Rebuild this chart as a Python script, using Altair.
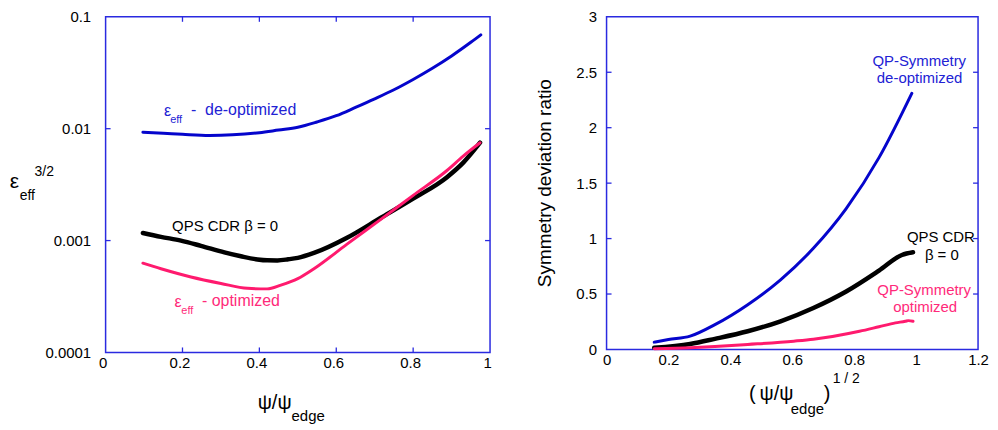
import altair as alt
import pandas as pd

FONT = "Liberation Sans"
FRAME = "#2a2ae0"
BLUE = "#0505cc"
BLUE_TXT = "#2222d4"
PINK = "#ff1a6e"
PINK_TXT = "#ff2a7a"
BLACK = "#000000"

# ---------------- Left panel data: eps_eff^(3/2) vs psi/psi_edge ----------------
L_BLUE_X = [0.097, 0.15, 0.2, 0.27, 0.33, 0.4, 0.45, 0.5, 0.55, 0.6, 0.65, 0.7, 0.75, 0.8, 0.85, 0.9, 0.95, 0.976]
L_BLUE_Y = [0.00929, 0.0091, 0.00891, 0.00871, 0.00881, 0.0092, 0.00973, 0.0103, 0.01148, 0.01306, 0.01549,
            0.01849, 0.02228, 0.02754, 0.03467, 0.04467, 0.05916, 0.06902]

L_BLACK_X = [0.097, 0.144, 0.196, 0.248, 0.309, 0.352, 0.395, 0.42, 0.447, 0.475, 0.5, 0.542, 0.628, 0.715,
             0.801, 0.888, 0.931, 0.974]
L_BLACK_Y = [0.00117, 0.00108, 0.00100, 0.000898, 0.000785, 0.000724, 0.000678, 0.000666, 0.000665, 0.00068,
             0.0007, 0.000775, 0.00106, 0.00159, 0.00238, 0.00369, 0.0050, 0.0075]

L_PINK_X = [0.097, 0.144, 0.222, 0.3, 0.369, 0.42, 0.456, 0.5, 0.542, 0.628, 0.715, 0.801, 0.888, 0.931, 0.974]
L_PINK_Y = [0.000628, 0.00056, 0.000473, 0.000414, 0.000374, 0.00037, 0.0004, 0.000457, 0.00056, 0.00093,
            0.00154, 0.00255, 0.00423, 0.00571, 0.00748]

L_XTICKS = [0, 0.2, 0.4, 0.6, 0.8, 1]
L_YTICKS = [0.0001, 0.001, 0.01, 0.1]

L_ANN_TEXT = ["\u03b5", "eff", "-\u00a0 de-optimized", "QPS CDR \u03b2 = 0", "\u03b5", "eff", "- optimized"]
L_ANN_X = [0.152, 0.168, 0.222, 0.173, 0.179, 0.197, 0.2507]
L_ANN_Y = [0.0145, 0.0120, 0.01469, 0.001346, 0.000282, 0.000233, 0.0002857]
L_ANN_C = [BLUE_TXT, BLUE_TXT, BLUE_TXT, BLACK, PINK_TXT, PINK_TXT, PINK_TXT]
L_ANN_S = [16, 11, 16, 15, 16, 11, 16]

# ---------------- Right panel data: symmetry deviation ratio ----------------
R_BLUE_X = [0.154, 0.2, 0.27, 0.35, 0.456, 0.562, 0.668, 0.774, 0.88, 0.986]
R_BLUE_Y = [0.066, 0.089, 0.12, 0.224, 0.404, 0.628, 0.912, 1.27, 1.73, 2.31]

R_BLACK_X = [0.154, 0.27, 0.35, 0.456, 0.562, 0.668, 0.774, 0.88, 0.954, 0.99]
R_BLACK_Y = [0.015, 0.05, 0.096, 0.164, 0.254, 0.374, 0.523, 0.711, 0.852, 0.876]

R_PINK_X = [0.154, 0.27, 0.35, 0.456, 0.605, 0.668, 0.817, 0.88, 0.933, 0.965, 0.975, 0.99]
R_PINK_Y = [0.006, 0.015, 0.026, 0.045, 0.075, 0.092, 0.164, 0.205, 0.24, 0.254, 0.26, 0.254]

R_XTICKS = [0, 0.2, 0.4, 0.6, 0.8, 1, 1.2]
R_YTICKS = [0, 0.5, 1, 1.5, 2, 2.5, 3]

R_ANN_TEXT = ["QP-Symmetry", "de-optimized", "QPS CDR", "\u03b2 = 0", "QP-Symmetry", "optimized"]
R_ANN_X = [1.01, 1.011, 1.08, 1.083, 1.026, 1.029]
R_ANN_Y = [2.601, 2.448, 1.013, 0.852, 0.538, 0.386]
R_ANN_C = [BLUE_TXT, BLUE_TXT, BLACK, BLACK, PINK_TXT, PINK_TXT]

WL, HL = 386, 337
WR, HR = 373, 334

xL = alt.Scale(domain=[0, 1])
yL = alt.Scale(type="log", domain=[0.0001, 0.1])
xR = alt.Scale(domain=[0, 1.2])
yR = alt.Scale(domain=[0, 3])

axis_common = dict(title=None, ticks=False, domain=False, grid=False, labelFont=FONT,
                   labelFontSize=15, labelColor="black", labelFlush=False, labelOverlap=False)

AX = {
    "L": (alt.Axis(values=L_XTICKS, format="~g", labelPadding=3, labelOffset=-3, **axis_common),
          alt.Axis(values=L_YTICKS, format=".4~f", labelPadding=15, **axis_common)),
    "R": (alt.Axis(values=R_XTICKS, format="~g", labelPadding=3, **axis_common),
          alt.Axis(values=R_YTICKS, format="~g", labelPadding=10, **axis_common)),
}


def line(xs, ys, color, width, sx, sy, p, interp="monotone"):
    df = pd.DataFrame({"x": xs, "y": ys})
    return alt.Chart(df).mark_line(color=color, strokeWidth=width, interpolate=interp,
                                   strokeCap="round", strokeJoin="round").encode(
        x=alt.X("x:Q", scale=sx, axis=AX[p][0]),
        y=alt.Y("y:Q", scale=sy, axis=AX[p][1]),
    )


def xticks(vals, sx, h, p, length=5):
    df = pd.DataFrame({"x": vals})
    b = alt.Chart(df).mark_rule(color=FRAME, strokeWidth=1.3)
    return [
        b.encode(x=alt.X("x:Q", scale=sx, axis=AX[p][0]), y=alt.value(h), y2=alt.value(h - length)),
        b.encode(x=alt.X("x:Q", scale=sx, axis=AX[p][0]), y=alt.value(0), y2=alt.value(length)),
    ]


def yticks(vals, sy, w, p, length=5):
    df = pd.DataFrame({"y": vals})
    b = alt.Chart(df).mark_rule(color=FRAME, strokeWidth=1.3)
    return [
        b.encode(y=alt.Y("y:Q", scale=sy, axis=AX[p][1]), x=alt.value(0), x2=alt.value(length)),
        b.encode(y=alt.Y("y:Q", scale=sy, axis=AX[p][1]), x=alt.value(w), x2=alt.value(w - length)),
    ]


def label(text, x, y, size, color=BLACK, align="left", angle=0):
    df = pd.DataFrame({"t": [text]})
    return alt.Chart(df).mark_text(font=FONT, fontSize=size, color=color, align=align,
                                   baseline="middle", angle=angle).encode(
        text="t:N", x=alt.value(x), y=alt.value(y))


def ann(texts, xs, ys, colors, sizes, sx, sy, p, align):
    df = pd.DataFrame({"t": texts, "x": xs, "y": ys, "c": colors, "s": sizes})
    return alt.Chart(df).mark_text(font=FONT, align=align, baseline="middle").encode(
        x=alt.X("x:Q", scale=sx, axis=AX[p][0]),
        y=alt.Y("y:Q", scale=sy, axis=AX[p][1]),
        text="t:N",
        color=alt.Color("c:N", scale=None),
        size=alt.Size("s:Q", scale=None),
    )


left = alt.layer(
    line(L_BLUE_X, L_BLUE_Y, BLUE, 3, xL, yL, "L"),
    line(L_BLACK_X, L_BLACK_Y, BLACK, 4.5, xL, yL, "L"),
    line(L_PINK_X, L_PINK_Y, PINK, 3, xL, yL, "L"),
    *xticks([0.2, 0.4, 0.6, 0.8], xL, HL, "L"),
    *yticks([0.001, 0.01], yL, WL, "L"),
    ann(L_ANN_TEXT, L_ANN_X, L_ANN_Y, L_ANN_C, L_ANN_S, xL, yL, "L", "left"),
    label("\u03b5", -96.3, HL / 2 - 3, 21),
    label("eff", -86.3, HL / 2 + 11, 14),
    label("3/2", -71.3, HL / 2 - 13, 14),
    label("\u03c8/\u03c8", 152.7, HL + 51, 20),
    label("edge", 186.7, HL + 64, 15),
).properties(width=WL, height=HL)

right = alt.layer(
    line(R_BLUE_X, R_BLUE_Y, BLUE, 3, xR, yR, "R"),
    line(R_BLACK_X, R_BLACK_Y, BLACK, 4.5, xR, yR, "R"),
    line(R_PINK_X, R_PINK_Y, PINK, 3, xR, yR, "R"),
    *yticks([0.5, 1, 1.5, 2, 2.5], yR, WR, "R"),
    ann(R_ANN_TEXT, R_ANN_X, R_ANN_Y, R_ANN_C, [15] * len(R_ANN_TEXT), xR, yR, "R", "center"),
    label("Symmetry deviation ratio", -62, HR / 2, 19, align="center", angle=270),
    label("(\u2009\u03c8/\u03c8", 143, HR + 45, 20),
    label("edge", 185, HR + 60, 15),
    label(")", 218, HR + 45, 20),
    label("1 / 2", 227, HR + 30, 14),
).properties(width=WR, height=HR)

chart = alt.hconcat(left, right, spacing=43).properties(
    padding={"left": 0, "top": 0, "right": 0, "bottom": 0},
    background="white",
).configure_view(stroke=FRAME, strokeWidth=1.5)

chart.save("out.html", embed_options={"renderer": "svg", "actions": False})
